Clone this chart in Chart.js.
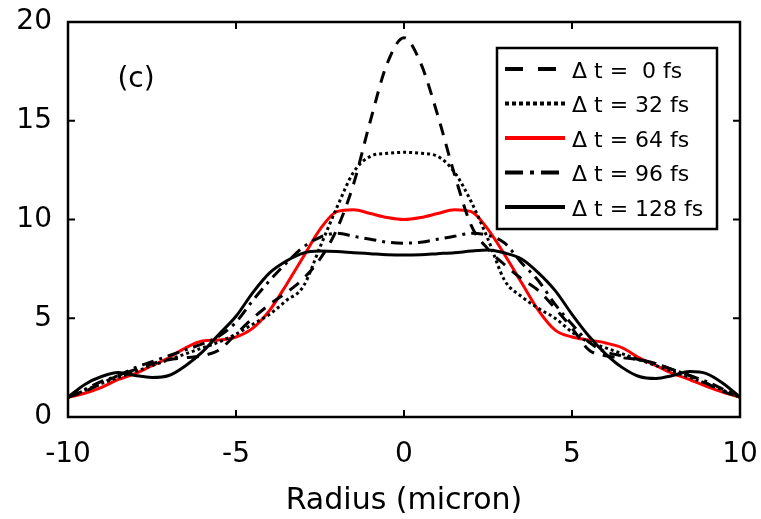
<html>
<head>
  <meta charset="utf-8">
  <title>Radius profile (c)</title>
  <script src="https://cdn.jsdelivr.net/npm/chart.js"></script>
  <style>
    body {
      margin: 0;
      background: #fff;
    }
    #wrap {
      width: 761px;
      height: 519px;
    }
  </style>
</head>
<body>
<div id="wrap"><canvas id="chart" width="761" height="519"></canvas></div>

<script>
// radius in micron
const radius = [-10, -9.5, -9, -8.5, -8, -7.5, -7, -6.5, -6, -5.5, -5, -4.5, -4, -3.5, -3, -2.5, -2, -1.5, -1, -0.5,
  0, 0.5, 1, 1.5, 2, 2.5, 3, 3.5, 4, 4.5, 5, 5.5, 6, 6.5, 7, 7.5, 8, 8.5, 9, 9.5, 10];

const dt0 = [1.0, 1.3, 1.7, 2.1, 2.4, 2.7, 2.9, 3.0, 3.1, 3.4, 4.2, 5.0, 5.7, 6.3, 7.0, 8.0, 9.5, 11.8, 15.0, 17.9,
  19.2, 17.9, 15.3, 12.3, 9.7, 8.5, 7.7, 7.0, 6.4, 5.5, 4.5, 3.4, 3.1, 3.0, 2.9, 2.7, 2.4, 2.1, 1.7, 1.3, 1.0];
const dt32 = [1.0, 1.35, 1.7, 2.0, 2.3, 2.6, 2.9, 3.2, 3.5, 3.8, 4.2, 4.7, 5.2, 5.9, 6.6, 8.6, 10.6, 12.4, 13.2, 13.35,
  13.4, 13.35, 13.2, 12.4, 10.9, 9.0, 6.9, 6.1, 5.5, 5.0, 4.3, 3.8, 3.5, 3.2, 2.9, 2.6, 2.3, 2.0, 1.7, 1.35, 1.0];
const dt64 = [1.0, 1.2, 1.5, 1.9, 2.2, 2.6, 3.0, 3.5, 3.85, 3.9, 4.05, 4.5, 5.4, 6.7, 8.1, 9.5, 10.4, 10.5, 10.3, 10.1,
  10.0, 10.1, 10.3, 10.5, 10.4, 9.5, 8.2, 6.8, 5.4, 4.4, 4.05, 3.9, 3.75, 3.5, 3.0, 2.6, 2.2, 1.9, 1.55, 1.25, 1.0];
const dt96 = [1.0, 1.4, 1.8, 2.1, 2.5, 2.8, 3.1, 3.4, 3.7, 4.1, 4.8, 5.9, 6.9, 7.8, 8.6, 9.1, 9.3, 9.15, 9.0, 8.85,
  8.8, 8.85, 9.0, 9.15, 9.3, 9.2, 8.8, 7.8, 6.9, 5.7, 4.7, 3.8, 3.3, 3.1, 2.9, 2.7, 2.4, 2.1, 1.8, 1.4, 1.0];
const dt128 = [1.0, 1.65, 2.05, 2.25, 2.1, 2.0, 2.1, 2.6, 3.3, 4.2, 5.1, 6.3, 7.3, 7.9, 8.3, 8.4, 8.38, 8.32, 8.27, 8.22,
  8.2, 8.22, 8.27, 8.32, 8.4, 8.45, 8.3, 8.0, 7.3, 6.4, 5.2, 4.1, 3.2, 2.5, 2.05, 1.95, 2.1, 2.3, 2.2, 1.7, 1.0];

const seriesLabels = ['\u0394 t =  0 fs', '\u0394 t = 32 fs', '\u0394 t = 64 fs', '\u0394 t = 96 fs', '\u0394 t = 128 fs'];
const xTicks = [-10, -5, 0, 5, 10];
const yTicks = [0, 5, 10, 15, 20];

const FONT = 'DejaVu Sans';

// line styles in legend order
const styles = [
  { color: '#000', dash: [12, 9], legendDash: [18, 15] },
  { color: '#000', dash: [3, 3], legendDash: [4, 3] },
  { color: '#ff0000', dash: [], legendDash: [] },
  { color: '#000', dash: [12, 6, 3, 6], legendDash: [18, 7, 4, 7] },
  { color: '#000', dash: [], legendDash: [] }
];

function points(ys) {
  return radius.map((r, i) => ({ x: r, y: ys[i] }));
}

function lineSet(idx, ys) {
  const st = styles[idx];
  return {
    label: seriesLabels[idx],
    data: points(ys),
    borderColor: st.color,
    borderWidth: 3,
    borderDash: st.dash,
    pointRadius: 0,
    cubicInterpolationMode: 'monotone',
    fill: false
  };
}

// frame with inward ticks, panel tag and boxed legend
const framePlugin = {
  id: 'frame',
  afterDatasetsDraw(chart) {
    const { ctx, chartArea: a, scales: { x, y } } = chart;
    ctx.save();
    ctx.strokeStyle = '#000';
    ctx.lineWidth = 2.5;
    ctx.setLineDash([]);
    ctx.strokeRect(a.left, a.top, a.right - a.left, a.bottom - a.top);

    ctx.lineWidth = 2;
    ctx.beginPath();
    xTicks.forEach(v => {
      const px = x.getPixelForValue(v);
      ctx.moveTo(px, a.bottom); ctx.lineTo(px, a.bottom - 7);
      ctx.moveTo(px, a.top); ctx.lineTo(px, a.top + 7);
    });
    yTicks.forEach(v => {
      const py = y.getPixelForValue(v);
      ctx.moveTo(a.left, py); ctx.lineTo(a.left + 7, py);
      ctx.moveTo(a.right, py); ctx.lineTo(a.right - 7, py);
    });
    ctx.stroke();

    // panel tag
    ctx.fillStyle = '#000';
    ctx.font = '28px "' + FONT + '"';
    ctx.textAlign = 'center';
    ctx.textBaseline = 'middle';
    ctx.fillText('(c)', 136, 80);

    // legend
    const bx = 497, by = 48, bw = 220, bh = 181;
    ctx.fillStyle = '#fff';
    ctx.fillRect(bx, by, bw, bh);
    ctx.lineWidth = 2.5;
    ctx.strokeRect(bx, by, bw, bh);
    ctx.font = '22px "' + FONT + '"';
    ctx.textAlign = 'left';
    seriesLabels.forEach((label, i) => {
      const st = styles[i];
      const ly = by + 21 + i * 34.5;
      ctx.strokeStyle = st.color;
      ctx.lineWidth = 4;
      ctx.setLineDash(st.legendDash);
      ctx.beginPath();
      ctx.moveTo(bx + 8, ly);
      ctx.lineTo(bx + 68, ly);
      ctx.stroke();
      ctx.setLineDash([]);
      ctx.fillStyle = '#000';
      ctx.fillText(label, bx + 75, ly + 3);
    });
    ctx.restore();
  }
};

new Chart(document.getElementById('chart'), {
  type: 'line',
  data: {
    datasets: [
      lineSet(0, dt0),
      lineSet(1, dt32),
      lineSet(3, dt96),
      lineSet(4, dt128),
      lineSet(2, dt64)
    ]
  },
  options: {
    responsive: false,
    animation: false,
    layout: { padding: { top: 22, right: 21, left: 0, bottom: 0 } },
    plugins: {
      legend: { display: false },
      tooltip: { enabled: false }
    },
    scales: {
      x: {
        type: 'linear',
        min: -10,
        max: 10,
        afterBuildTicks: s => { s.ticks = xTicks.map(v => ({ value: v })); },
        ticks: { color: '#000', font: { family: FONT, size: 28 }, padding: 21, maxRotation: 0 },
        grid: { display: false, drawTicks: false },
        border: { display: false },
        title: {
          display: true,
          text: 'Radius (micron)',
          color: '#000',
          font: { family: FONT, size: 30 },
          padding: { top: 0, bottom: 0 }
        },
        afterFit: s => {
          s.height = 102;
          s.paddingLeft = 0;
          s.paddingRight = 0;
        }
      },
      y: {
        min: 0,
        max: 20,
        afterBuildTicks: s => { s.ticks = yTicks.map(v => ({ value: v })); },
        ticks: { color: '#000', font: { family: FONT, size: 28 }, padding: 16 },
        grid: { display: false, drawTicks: false },
        border: { display: false },
        afterFit: s => {
          s.width = 68;
          s.paddingTop = 0;
          s.paddingBottom = 0;
        }
      }
    }
  },
  plugins: [framePlugin]
});
</script>
</body>
</html>
